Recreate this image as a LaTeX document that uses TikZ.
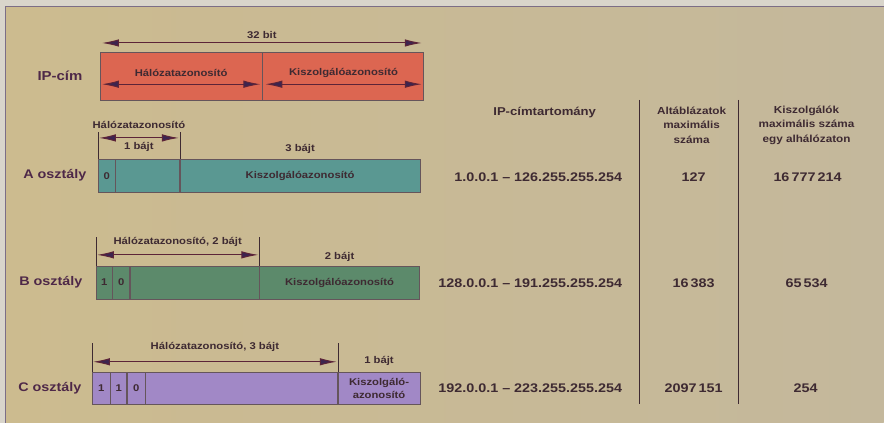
\documentclass[tikz,border=0pt]{standalone}
\usepackage{fontspec}
\setmainfont[FakeStretch=1.15]{Liberation Sans}
\usetikzlibrary{arrows.meta, positioning, calc}

\definecolor{paperL}{HTML}{CCBB8F}
\definecolor{paperR}{HTML}{C4B89C}
\definecolor{margin}{HTML}{D9D5CB}
\definecolor{frameline}{HTML}{7C6E86}
\definecolor{ipred}{HTML}{DC6651}
\definecolor{ateal}{HTML}{5A9892}
\definecolor{bgreen}{HTML}{5C8A6B}
\definecolor{clav}{HTML}{A188C6}
\definecolor{ink}{HTML}{4E2848}
\definecolor{darkink}{HTML}{3E2A32}
\definecolor{arrowc}{HTML}{5C2438}
\definecolor{headc}{HTML}{3C2450}

\begin{document}
\begin{tikzpicture}[
    x=1pt, y=-1pt,
    >={Latex[length=17pt,width=7.5pt,fill=headc]},
    field/.style={rectangle, draw=darkink!80, line width=0.5pt, inner sep=0pt, minimum height=#1, align=center, font=\fontsize{9.8}{12}\selectfont\bfseries, text=darkink},
    ipfield/.style={field=48pt, fill=ipred},
    afield/.style={field=33pt, fill=ateal},
    bfield/.style={field=33pt, fill=bgreen},
    cfield/.style={field=32pt, fill=clav},
    rowlbl/.style={font=\fontsize{12.5}{15}\selectfont\bfseries, text=ink},
    lbl/.style={font=\fontsize{9.8}{12}\selectfont\bfseries, text=darkink, inner sep=1pt},
    head/.style={font=\fontsize{10.2}{14.5}\selectfont\bfseries, text=darkink, align=center},
    data/.style={font=\fontsize{12.5}{14}\selectfont\bfseries, text=darkink},
    dim/.style={<->, draw=arrowc, line width=1pt},
    tick/.style={draw=darkink, line width=0.5pt},
    rule/.style={draw=darkink, line width=0.7pt}
]

    % Paper
    \fill[margin] (0,0) rectangle (884,423);
    \shade[left color=paperL, right color=paperR] (6,7) rectangle (884,423);
    \draw[frameline, line width=1pt] (6,423) -- (6,7) -- (884,7);

    % IP address
    \node[ipfield, minimum width=162pt, anchor=north west] (ipnet) at (100,52) {};
    \node[ipfield, minimum width=161pt, right=0pt of ipnet] (iphost) {};
    \node[rowlbl, font=\fontsize{13}{15}\selectfont\bfseries, left=14pt of ipnet] (iplbl) {IP-cím};
    \coordinate (ipL) at ($(ipnet.north west)+(2,-9)$);
    \coordinate (ipR) at ($(iphost.north east)+(-2,-9)$);
    \draw[dim] (ipL) -- node[lbl, above=3pt] {32 bit} (ipR);
    \coordinate (netL) at ($(ipnet.west)+(2,8)$);
    \coordinate (netR) at ($(ipnet.east)+(-2,8)$);
    \coordinate (hostL) at ($(iphost.west)+(3,8)$);
    \coordinate (hostR) at ($(iphost.east)+(-2,8)$);
    \draw[dim] (netL) -- node[lbl, yshift=11pt] {Hálózatazonosító} (netR);
    \draw[dim] (hostL) -- node[lbl, yshift=11pt] {Kiszolgálóazonosító} (hostR);

    % Class A
    \node[afield, minimum width=17pt, anchor=north west] (a0) at (98,159) {0};
    \node[afield, minimum width=64pt, right=0pt of a0] (anet) {};
    \node[afield, minimum width=240pt, right=0pt of anet] (ahost) {Kiszolgálóazonosító};
    \node[rowlbl, left=8pt of a0] (albl) {A osztály};
    \draw[tick] (a0.north west) -- ++(0,-27) coordinate (aL);
    \draw[tick] (anet.north east) -- ++(0,-27) coordinate (aR);
    \draw[dim] ($(aL)+(1,6)$) -- node[lbl, yshift=13pt] {Hálózatazonosító} node[lbl, yshift=-9pt] {1 bájt} ($(aR)+(-1,6)$);
    \node[lbl, above=4pt of ahost] (abytes) {3 bájt};

    % Class B
    \node[bfield, minimum width=16pt, anchor=north west] (b1) at (96,266) {1};
    \node[bfield, minimum width=17pt, right=0pt of b1] (b0) {0};
    \node[bfield, minimum width=129pt, right=0pt of b0] (bnet) {};
    \node[bfield, minimum width=160pt, right=0pt of bnet] (bhost) {Kiszolgálóazonosító};
    \node[rowlbl, left=10pt of b1] (blbl) {B osztály};
    \draw[tick] (b1.north west) -- ++(0,-29) coordinate (bL);
    \draw[tick] (bnet.north east) -- ++(0,-29) coordinate (bR);
    \draw[dim] ($(bL)+(1,18)$) -- node[lbl, yshift=13pt] {Hálózatazonosító, 2 bájt} ($(bR)+(-1,18)$);
    \node[lbl, above=3pt of bhost] (bbytes) {2 bájt};

    % Class C
    \node[cfield, minimum width=18pt, anchor=north west] (c1) at (92,372) {1};
    \node[cfield, minimum width=16pt, right=0pt of c1] (c2) {1};
    \node[cfield, minimum width=18pt, right=0pt of c2] (c0) {0};
    \node[cfield, minimum width=192pt, right=0pt of c0] (cnet) {};
    \node[cfield, minimum width=82pt, right=0pt of cnet, font=\fontsize{9.8}{13}\selectfont\bfseries] (chost) {Kiszolgáló-\\azonosító};
    \node[rowlbl, left=7pt of c1] (clbl) {C osztály};
    \draw[tick] (c1.north west) -- ++(0,-29) coordinate (cL);
    \draw[tick] (cnet.north east) -- ++(0,-29) coordinate (cR);
    \draw[dim] ($(cL)+(1,19)$) -- node[lbl, yshift=15pt] {Hálózatazonosító, 3 bájt} ($(cR)+(-1,19)$);
    \node[lbl, above=5pt of chost] (cbytes) {1 bájt};

    % Table
    \draw[rule] (640,100) -- (640,404);
    \draw[rule] (739,100) -- (739,404);
    \node[head, font=\fontsize{11.4}{14}\selectfont\bfseries] (hrange) at (545,113) {IP-címtartomány};
    \node[head] (hnets) at (692,125) {Altáblázatok\\maximális\\száma};
    \node[head] (hhosts) at (807,125) {Kiszolgálók\\maximális száma\\egy alhálózaton};

    \node[data, anchor=east] (arange) at (626,177) {1.0.0.1 – 126.255.255.254};
    \node[data] (anets) at (694,177) {127};
    \node[data] (ahosts) at (808,177) {16\,777\,214};

    \node[data, anchor=east] (brange) at (626,283) {128.0.0.1 – 191.255.255.254};
    \node[data] (bnets) at (694,283) {16\,383};
    \node[data] (bhosts) at (807,283) {65\,534};

    \node[data, anchor=east] (crange) at (626,388) {192.0.0.1 – 223.255.255.254};
    \node[data] (cnets) at (694,388) {2097\,151};
    \node[data] (chosts) at (806,388) {254};

\end{tikzpicture}
\end{document}
